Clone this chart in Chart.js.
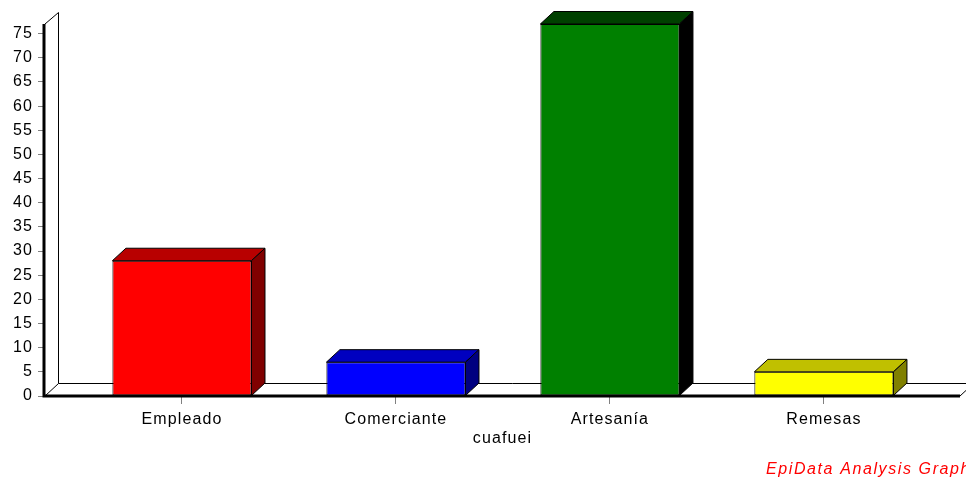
<!DOCTYPE html>
<html>
<head>
<meta charset="utf-8">
<script src="https://cdn.jsdelivr.net/npm/chart.js@4"></script>
<style>
  html, body { margin: 0; padding: 0; background: #fff; }
  #wrap { width: 966px; height: 477px; }
</style>
</head>
<body>
<div id="wrap"><canvas id="c" width="966" height="477"></canvas></div>
<script>
const categories = ['Empleado', 'Comerciante', 'Artesanía', 'Remesas'];
const values = [28, 7, 77, 5];
const yTickValues = [0, 5, 10, 15, 20, 25, 30, 35, 40, 45, 50, 55, 60, 65, 70, 75];
const xTitle = 'cuafuei';
const footer = 'EpiData Analysis Graph';

const frontColors = ['#FF0000', '#0000FF', '#008000', '#FFFF00'];
const topColors = ['#B80000', '#0000C0', '#004000', '#C0C000'];
const sideColors = ['#800000', '#000080', '#000000', '#808000'];

const DX = 13.5, DY = 12.5;
const FONT = 'Arial, "Liberation Sans", sans-serif';

const spacingPlugin = {
  id: 'spacing',
  beforeUpdate(chart) { chart.ctx.letterSpacing = '1.1px'; },
  beforeDraw(chart) { chart.ctx.letterSpacing = '1.1px'; }
};

const framePlugin = {
  id: 'frame',
  beforeDatasetsDraw(chart) {
    const { ctx, chartArea: a } = chart;
    ctx.save();
    ctx.strokeStyle = '#000';
    ctx.lineWidth = 1;
    ctx.beginPath();
    ctx.moveTo(a.left + DX, a.top - DY + 1);
    ctx.lineTo(a.left + DX, a.bottom - DY);
    ctx.lineTo(a.right + DX + 20, a.bottom - DY);
    ctx.moveTo(a.left, a.bottom);
    ctx.lineTo(a.left + DX, a.bottom - DY);
    ctx.moveTo(a.left, a.top);
    ctx.lineTo(a.left + DX, a.top - DY + 1);
    ctx.moveTo(a.right, a.bottom);
    ctx.lineTo(a.right + DX, a.bottom - DY);
    ctx.stroke();
    ctx.restore();
  },
  afterDatasetsDraw(chart) {
    const { ctx, chartArea: a } = chart;
    const meta = chart.getDatasetMeta(0);
    ctx.save();
    ctx.strokeStyle = '#000';
    ctx.lineWidth = 1;
    meta.data.forEach((bar, i) => {
      const { x, y, base, width } = bar.getProps(['x', 'y', 'base', 'width'], true);
      const l = x - width / 2, r = x + width / 2;
      ctx.beginPath();
      ctx.moveTo(l, y);
      ctx.lineTo(l + DX, y - DY);
      ctx.lineTo(r + DX, y - DY);
      ctx.lineTo(r, y);
      ctx.closePath();
      ctx.fillStyle = topColors[i];
      ctx.fill();
      ctx.stroke();
      ctx.beginPath();
      ctx.moveTo(r, y);
      ctx.lineTo(r + DX, y - DY);
      ctx.lineTo(r + DX, base - DY);
      ctx.lineTo(r, base);
      ctx.closePath();
      ctx.fillStyle = sideColors[i];
      ctx.fill();
      ctx.stroke();
    });
    ctx.lineWidth = 3;
    ctx.beginPath();
    ctx.moveTo(a.left - 1, a.top);
    ctx.lineTo(a.left - 1, a.bottom);
    ctx.lineTo(a.right, a.bottom);
    ctx.stroke();
    ctx.restore();
  },
  afterDraw(chart) {
    const { ctx } = chart;
    ctx.save();
    ctx.letterSpacing = '1.6px';
    ctx.font = 'italic 16px ' + FONT;
    ctx.fillStyle = '#FF0000';
    ctx.textAlign = 'left';
    ctx.textBaseline = 'alphabetic';
    ctx.fillText(footer, 766, 474);
    ctx.restore();
  }
};

new Chart(document.getElementById('c'), {
  type: 'bar',
  data: {
    datasets: [{
      data: values.map((v, i) => ({ x: i, y: v })),
      backgroundColor: frontColors,
      borderColor: '#000',
      borderWidth: 1,
      borderSkipped: false,
      barPercentage: 0.65,
      categoryPercentage: 1
    }]
  },
  options: {
    responsive: false,
    animation: false,
    events: [],
    layout: { padding: { top: 24, right: 6, bottom: 29, left: 0 } },
    plugins: { legend: { display: false }, tooltip: { enabled: false } },
    scales: {
      x: {
        type: 'linear',
        min: -0.64,
        max: 3.636,
        offset: false,
        afterBuildTicks(scale) { scale.ticks = categories.map((c, i) => ({ value: i })); },
        afterFit(scale) { scale.height = 52; },
        border: { display: false },
        grid: { offset: false, drawOnChartArea: false, tickLength: 8, color: '#808080' },
        ticks: {
          autoSkip: false, maxRotation: 0, padding: 6, color: '#000',
          font: { family: FONT, size: 16 },
          callback: (v) => categories[v]
        },
        title: { display: true, text: xTitle, color: '#000', padding: 0, font: { family: FONT, size: 16 } }
      },
      y: {
        min: 0,
        max: 77,
        afterBuildTicks(scale) { scale.ticks = yTickValues.map(v => ({ value: v })); },
        afterFit(scale) { scale.width = 45; },
        border: { display: false },
        grid: { drawOnChartArea: false, tickLength: 7, color: '#808080' },
        ticks: { padding: 5, color: '#000', font: { family: FONT, size: 16 } }
      }
    }
  },
  plugins: [spacingPlugin, framePlugin]
});
</script>
</body>
</html>
